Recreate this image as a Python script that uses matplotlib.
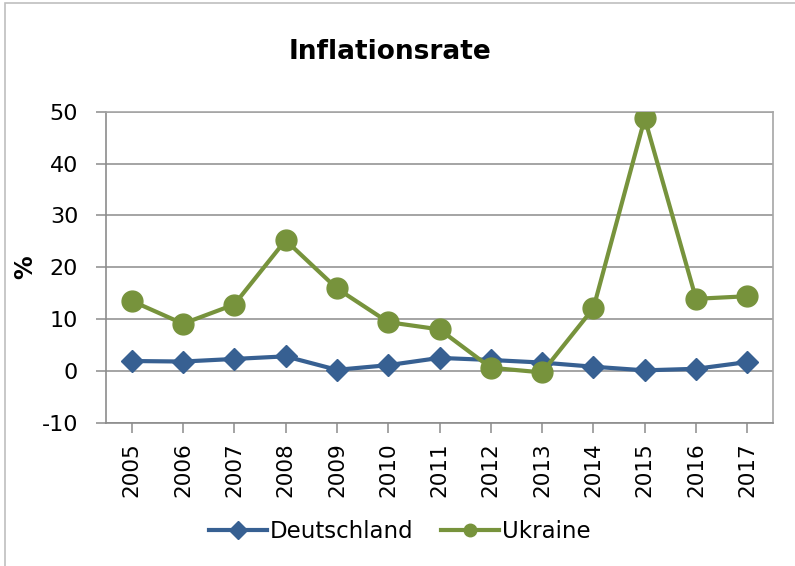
import matplotlib
matplotlib.use("Agg")
import matplotlib.pyplot as plt
from matplotlib.patches import Rectangle

plt.rcParams["axes.unicode_minus"] = False

years = ["2005", "2006", "2007", "2008", "2009", "2010", "2011",
         "2012", "2013", "2014", "2015", "2016", "2017"]
deutschland = [1.9, 1.8, 2.3, 2.8, 0.2, 1.1, 2.5, 2.1, 1.6, 0.8, 0.1, 0.4, 1.7]
ukraine = [13.5, 9.1, 12.8, 25.2, 15.9, 9.4, 8.0, 0.6, -0.3, 12.1, 48.7, 13.9, 14.4]
y_ticks = [-10, 0, 10, 20, 30, 40, 50]

W, H = 795, 566
fig = plt.figure(figsize=(W / 100, H / 100), dpi=100)
fig.patch.set_facecolor("white")

# outer chart border (only left and top edges are visible in the crop)
fig.add_artist(Rectangle((5 / W, -0.2), 1.2, 1.2 - 3 / H, transform=fig.transFigure,
                         fill=False, edgecolor="#BFBFBF", linewidth=1.2))

ax = fig.add_axes([106 / W, 1 - 422.7 / H, (773 - 106) / W, (422.7 - 111.7) / H])

x = list(range(len(years)))
blue = "#376092"
green = "#77933C"
ax.plot(x, deutschland, color=blue, linewidth=3, marker="D", markersize=11.5,
        markerfacecolor=blue, markeredgecolor=blue, label="Deutschland", zorder=3)
ax.plot(x, ukraine, color=green, linewidth=3, marker="o", markersize=15,
        markerfacecolor=green, markeredgecolor=green, label="Ukraine", zorder=4)

ax.set_xlim(-0.5, len(years) - 0.5)
ax.set_ylim(-10, 50)
ax.set_yticks(y_ticks)
ax.set_xticks(x)
ax.set_xticklabels(years, rotation=90)
ax.yaxis.grid(True, color="#8C8C8C", linewidth=1.1)
ax.set_axisbelow(True)

for s in ax.spines.values():
    s.set_color("#A6A6A6")
    s.set_linewidth(1.2)
ax.spines["left"].set_color("#8C8C8C")
ax.spines["bottom"].set_color("#8C8C8C")

ax.tick_params(axis="y", direction="out", length=7, width=1.1, color="#8C8C8C",
               labelsize=16, pad=13)
ax.tick_params(axis="x", direction="out", length=7, width=1.1, color="#8C8C8C",
               labelsize=15.5, pad=7)

ax.set_ylabel("%", fontsize=17, fontweight="bold", labelpad=3)
fig.text(390 / W, 1 - 52 / H, "Inflationsrate", fontsize=19, fontweight="bold",
         ha="center", va="center")

leg = fig.legend(loc="center", bbox_to_anchor=(400 / W, 1 - 532 / H), ncol=2,
                 frameon=False, fontsize=16.5, handlelength=2.5, handletextpad=0.15,
                 columnspacing=1.2)
for h in leg.legend_handles:
    h.set_markersize(9)

fig.savefig("out.png", dpi=100, facecolor="white")
